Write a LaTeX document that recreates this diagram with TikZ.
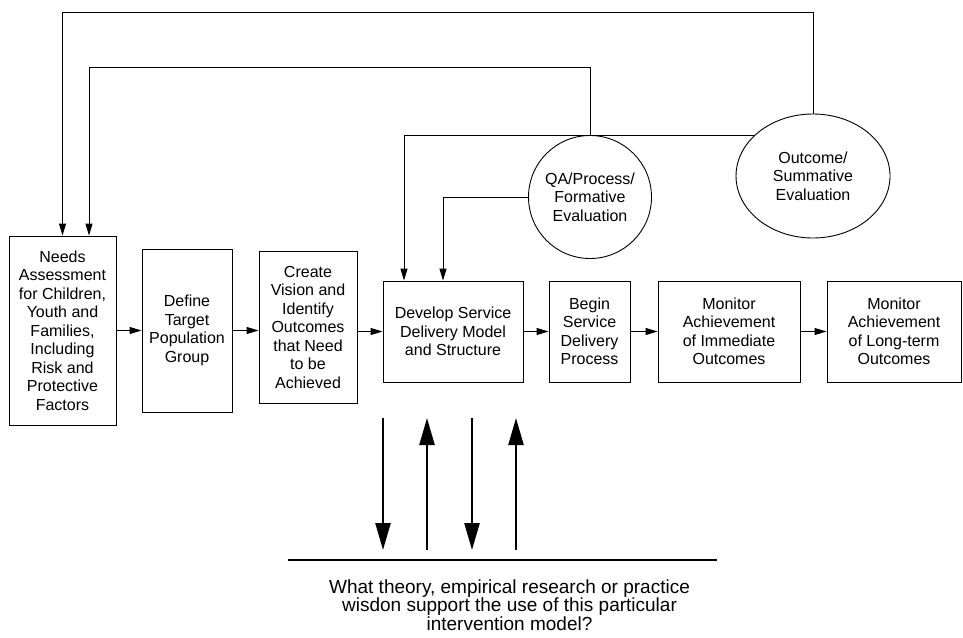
\documentclass[tikz,border=0pt]{standalone}
\usepackage{fontspec}
\setmainfont{Liberation Sans}
\usetikzlibrary{arrows.meta, shapes.geometric}
\tikzset{
    boite/.style={draw, line width=0.9pt, align=center, inner sep=2pt, font=\fontsize{16}{18.5}\selectfont},
    fleche/.style={line width=0.9pt, -{Triangle[length=12pt, width=7pt]}},
    grosse/.style={line width=2.4pt, -{Triangle[length=27pt, width=15pt]}},
}

\begin{document}
\begin{tikzpicture}[x=1pt, y=-1pt]
    \useasboundingbox (0,0) rectangle (963,637);

    % Étapes du processus
    \node[boite, minimum width=107pt, minimum height=189pt] (needs) at (62.5,330.5) {Needs\\Assessment\\for Children,\\Youth and\\Families,\\Including\\Risk and\\Protective\\Factors};
    \node[boite, minimum width=90pt, minimum height=163pt] (target) at (187,330.5) {Define\\Target\\Population\\Group};
    \node[boite, minimum width=98pt, minimum height=152pt] (vision) at (308,327) {Create\\Vision and\\Identify\\Outcomes\\that Need\\to be\\Achieved};
    \node[boite, minimum width=140pt, minimum height=101pt] (model) at (453,331.5) {Develop Service\\Delivery Model\\and Structure};
    \node[boite, minimum width=81pt, minimum height=101pt] (begin) at (589.5,331.5) {Begin\\Service\\Delivery\\Process};
    \node[boite, minimum width=142pt, minimum height=101pt] (immediate) at (729,331.5) {Monitor\\Achievement\\of Immediate\\Outcomes};
    \node[boite, minimum width=134pt, minimum height=101pt] (longterm) at (894,331.5) {Monitor\\Achievement\\of Long-term\\Outcomes};

    \draw[fleche] (needs.east) -- (target.west);
    \draw[fleche] (target.east) -- (vision.west |- target.east);
    \draw[fleche] (vision.east |- model.west) -- (model.west);
    \draw[fleche] (model.east) -- (begin.west);
    \draw[fleche] (begin.east) -- (immediate.west);
    \draw[fleche] (immediate.east) -- (longterm.west);

    % Évaluations
    \node[boite, circle, minimum size=123pt] (qa) at (590,197) {QA/Process/\\Formative\\Evaluation};
    \node[boite, ellipse, minimum width=154pt, minimum height=124pt] (outcome) at (813,176) {Outcome/\\Summative\\Evaluation};

    % Boucles de retour
    \coordinate (needsin) at ([xshift=26.5pt]needs.north);
    \coordinate (modelin1) at ([xshift=-49pt]model.north);
    \coordinate (modelin2) at ([xshift=-10pt]model.north);
    \draw[fleche] (outcome.north) |- (needs.north |- 0,12) -- (needs.north);
    \draw[fleche] (qa.north) |- (needsin |- 0,67) -- (needsin);
    \draw[fleche] (outcome.146) -| (modelin1);
    \draw[fleche] (qa.west) -| (modelin2);

    % Question sur la base théorique
    \coordinate (baseG) at (288,560);
    \coordinate (baseD) at (717,560);
    \draw[line width=2.4pt] (baseG) -- (baseD);
    \node[align=center, font=\fontsize{19}{17.5}\selectfont] (question) at (509.5,605) {What theory, empirical research or practice\\wisdon support the use of this particular\\intervention model?};

    % Flèches entre modèle et théorie
    \coordinate (h1) at (383,418);
    \coordinate (b1) at (383,550);
    \coordinate (h2) at (427,418);
    \coordinate (b2) at (427,550);
    \coordinate (h3) at (472,418);
    \coordinate (b3) at (472,550);
    \coordinate (h4) at (516,418);
    \coordinate (b4) at (516,550);
    \draw[grosse] (h1) -- (b1);
    \draw[grosse] (b2) -- (h2);
    \draw[grosse] (h3) -- (b3);
    \draw[grosse] (b4) -- (h4);
\end{tikzpicture}
\end{document}
